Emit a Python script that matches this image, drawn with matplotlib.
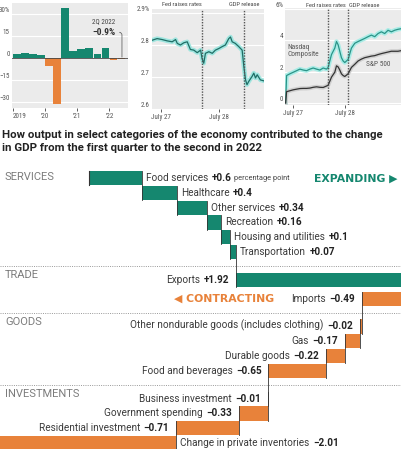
import numpy as np
import matplotlib
matplotlib.use('Agg')
import matplotlib.pyplot as plt

plt.rcParams['font.family'] = ['Roboto Condensed', 'DejaVu Sans']

# --- 1. Data ---
# Top left: quarterly change in GDP, annualized %
gdp_quarters = ['2019Q1', '2019Q2', '2019Q3', '2019Q4', '2020Q1', '2020Q2', '2020Q3',
                '2020Q4', '2021Q1', '2021Q2', '2021Q3', '2021Q4', '2022Q1', '2022Q2']
gdp_change = [2.4, 3.2, 2.8, 1.9, -5.1, -31.2, 33.8, 4.5, 6.3, 7.0, 2.7, 7.0, -1.6, -0.9]
gdp_year_ticks = [-0.5, 3.5, 7.5, 11.5]
gdp_year_labels = ['2019', '\u201920', '\u201921', '\u201922']

# Top middle: 10-year Treasury yield, hours from July 27 00:00
yield_hours = [-3.4, -1.4, 0.7, 2.7, 4.8, 6.2, 6.9, 8.2, 9.6, 11.0, 12.3, 13.7, 15.1,
               16.5, 17.1, 17.8, 18.5, 19.9, 21.3, 22.6, 24.0, 25.4, 26.7, 28.1, 28.8,
               29.5, 30.8, 32.2, 33.6, 34.3, 35.0, 35.6, 36.3, 37.7, 38.4, 39.1, 39.8,
               41.1, 42.5]
yield_pct = [2.815, 2.820, 2.817, 2.813, 2.810, 2.817, 2.805, 2.800, 2.807, 2.810, 2.786,
             2.784, 2.776, 2.784, 2.758, 2.743, 2.774, 2.779, 2.774, 2.784, 2.789, 2.795,
             2.800, 2.820, 2.825, 2.810, 2.805, 2.795, 2.784, 2.733, 2.691, 2.676, 2.686,
             2.702, 2.712, 2.697, 2.707, 2.691, 2.688]
yield_events = [17.1, 34.3]

# Top right: index change, %, days from July 27
stock_days = [-0.148, -0.129, -0.065, 0, 0.065, 0.129, 0.194, 0.258, 0.323, 0.387,
              0.452, 0.516, 0.581, 0.645, 0.677, 0.742, 0.806, 0.839, 0.871, 0.903,
              0.935, 0.968, 1.0, 1.065, 1.129, 1.194, 1.258, 1.323, 1.387, 1.452,
              1.516, 1.581, 1.645, 1.71, 1.774, 1.839, 1.903, 1.968, 2.032, 2.097]
nasdaq_pct = [0, 1.75, 1.86, 1.96, 2.06, 2.16, 2.1, 2.06, 2.16, 2.23, 2.16, 2.1, 2.23,
              2.16, 2.27, 3.09, 3.5, 3.92, 3.71, 3.3, 2.89, 2.68, 2.58, 2.78, 3.5, 3.81,
              3.92, 4.02, 4.12, 4.23, 4.33, 4.23, 4.43, 4.54, 4.43, 4.64, 4.54, 4.64,
              4.7, 4.74]
sp500_pct = [0, 0.72, 0.78, 0.84, 0.88, 0.92, 0.93, 0.93, 0.95, 1.0, 1.03, 1.0, 0.99,
             1.08, 1.13, 1.65, 1.96, 2.37, 2.3, 2.1, 1.86, 1.75, 1.69, 1.86, 2.27, 2.47,
             2.68, 2.8, 2.89, 2.94, 2.99, 3.02, 3.09, 3.15, 3.2, 3.25, 3.3, 3.3, 3.3, 3.34]
stock_events = [0.68, 1.06]

# Bottom: contributions to GDP change, percentage points
sections = ['SERVICES', 'TRADE', 'GOODS', 'INVESTMENTS']
categories = ['Food services', 'Healthcare', 'Other services', 'Recreation',
              'Housing and utilities', 'Transportation',
              'Exports', 'Imports',
              'Other nondurable goods (includes clothing)', 'Gas', 'Durable goods',
              'Food and beverages',
              'Business investment', 'Government spending', 'Residential investment',
              'Change in private inventories']
category_section = [0, 0, 0, 0, 0, 0, 1, 1, 2, 2, 2, 2, 3, 3, 3, 3]
contributions = [0.6, 0.4, 0.34, 0.16, 0.1, 0.07, 1.92, -0.49, -0.02, -0.17, -0.22,
                 -0.65, -0.01, -0.33, -0.71, -2.01]

# --- 2. Styling ---
W, H = 402, 449
TEAL = '#15876f'
ORANGE = '#e8823a'
PANEL_BG = '#ebebeb'
TICK_TXT = '#555555'
DARK = '#222222'
LABEL_FONT = ['Roboto', 'DejaVu Sans']

fig = plt.figure(figsize=(W / 100, H / 100), dpi=100)


def px_axes(x0, y0, x1, y1):
    # axes box given in picture pixels from the top-left corner
    return fig.add_axes([x0 / W, 1 - y1 / H, (x1 - x0) / W, (y1 - y0) / H])


def panel_style(ax, yticks, ylabels):
    ax.set_facecolor(PANEL_BG)
    for s in ax.spines.values():
        s.set_visible(False)
    ax.set_yticks(yticks, ylabels)
    for yv in yticks:
        ax.axhline(yv, color='white', lw=0.8, zorder=0.5)
    ax.tick_params(axis='y', length=0, labelsize=5, colors=TICK_TXT, pad=1.5)
    ax.tick_params(axis='x', length=2, width=0.6, color='#444', labelsize=5,
                   labelcolor=TICK_TXT, pad=1.5)
    for lab in ax.get_yticklabels():
        lab.set_va('bottom')


# --- 3. Top left: GDP bars ---
ax1 = px_axes(12, 3, 128, 108)
xq = np.arange(len(gdp_quarters))
ax1.bar(xq, gdp_change, width=0.96,
        color=[TEAL if v > 0 else ORANGE for v in gdp_change], zorder=2)
ax1.set_xlim(-0.6, 13.8)
ax1.set_ylim(-34, 37.4)
panel_style(ax1, [-30, -15, 0, 15, 30], ['\u221230', '\u221215', '0', '15', '30%'])
ax1.axhline(0, color='#444', lw=0.6, zorder=3)
ax1.set_xticks(gdp_year_ticks, gdp_year_labels)
ax1.get_xticklabels()[0].set_ha('left')
ax1.text(10.8, 24.5, '2Q 2022', ha='center', va='center', fontsize=5, color='#444')
ax1.annotate('\u22120.9%', xy=(13.05, 0.6), xytext=(10.8, 17.5), ha='center', va='center',
             fontsize=6.8, fontweight='bold', color='#333',
             arrowprops=dict(arrowstyle='-', lw=0.6, color='#666', relpos=(1, 0.5),
                             connectionstyle='angle,angleA=0,angleB=90,rad=3',
                             shrinkA=1, shrinkB=0))

# --- 4. Top middle: Treasury yield ---
ax2 = px_axes(152, 9, 264, 109)
ax2.plot(yield_hours, yield_pct, color='#9fe5df', lw=3.2, solid_capstyle='round', zorder=2)
ax2.plot(yield_hours, yield_pct, color='#1f6e66', lw=0.9, zorder=3)
ax2.set_xlim(-3.5, 42.6)
ax2.set_ylim(2.6, 2.9125)
panel_style(ax2, [2.6, 2.7, 2.8, 2.9], ['2.6', '2.7', '2.8', '2.9%'])
ax2.set_xticks([0, 24], ['July 27', 'July 28'])
for xv in yield_events:
    ax2.axvline(xv, color='#555', lw=1.0, ls=(0, (1, 1)), zorder=4)
ax2.text(yield_events[0], 1.05, 'Fed raises rates', transform=ax2.get_xaxis_transform(),
         ha='right', va='center', fontsize=4.6, color='#444')
ax2.text(yield_events[1], 1.05, 'GDP release', transform=ax2.get_xaxis_transform(),
         ha='center', va='center', fontsize=4.6, color='#444')

# --- 5. Top right: stock indexes ---
ax3 = px_axes(285, 8, 402, 105)
ax3.plot(stock_days, nasdaq_pct, color='#a9ece6', lw=3.2, zorder=2)
ax3.plot(stock_days, nasdaq_pct, color='#2a9488', lw=0.9, zorder=3)
ax3.plot(stock_days, sp500_pct, color='#cfcfcf', lw=3.0, zorder=2)
ax3.plot(stock_days, sp500_pct, color='#333333', lw=0.9, zorder=3)
ax3.set_xlim(-0.16, 2.11)
ax3.set_ylim(-0.13, 6.06)
panel_style(ax3, [0, 2, 4, 6], ['0', '2', '4', '6%'])
ax3.set_xticks([0, 1], ['July 27', 'July 28'])
for xv in stock_events:
    ax3.axvline(xv, color='#555', lw=1.0, ls=(0, (1, 1)), zorder=4)
ax3.text(stock_events[1] - 0.05, 1.03, 'Fed raises rates', transform=ax3.get_xaxis_transform(),
         ha='right', va='center', fontsize=4.6, color='#444')
ax3.text(stock_events[1] + 0.03, 1.03, 'GDP release', transform=ax3.get_xaxis_transform(),
         ha='left', va='center', fontsize=4.6, color='#444')
ax3.text(-0.12, 3.3, 'Nasdaq\nComposite', ha='left', va='center', fontsize=5.3,
         color='#555', linespacing=1.0)
ax3.text(1.41, 2.47, 'S&P 500', ha='left', va='center', fontsize=5.3, color='#555')

# --- 6. Title of the bottom chart ---
title_kw = dict(fontsize=8.2, fontweight='bold', color='#222', va='center', ha='left',
                family=LABEL_FONT)
fig.text(2 / W, 1 - 135 / H,
         'How output in select categories of the economy contributed to the change',
         **title_kw)
fig.text(2 / W, 1 - 148 / H,
         'in GDP from the first quarter to the second in 2022', **title_kw)

# --- 7. Bottom waterfall ---
ax4 = px_axes(0, 160, W, H)
ax4.set_xlim(-1.011, 3.557)
ax4.set_ylim(H, 160)   # y in picture pixels
ax4.axis('off')

PITCH, SECTION_GAP, BAR_H = 14.8, 13, 14.2
row_y = []
y = 178
for i, s in enumerate(category_section):
    if i > 0:
        y += PITCH
        if s != category_section[i - 1]:
            y += SECTION_GAP
        if categories[i] == 'Imports':
            y += 4  # room for the CONTRACTING tag
    row_y.append(y)

vals = np.array(contributions)
ends = np.cumsum(vals)
starts = ends - vals
colors = [TEAL if v > 0 else ORANGE for v in vals]
ax4.barh(row_y, vals, left=starts, height=BAR_H, color=colors, zorder=2)

# thin connectors at each step
ax4.plot([0, 0], [row_y[0] - BAR_H / 2, row_y[0] + BAR_H / 2], color='#333', lw=0.8, zorder=3)
for i in range(len(vals) - 1):
    ax4.plot([ends[i], ends[i]], [row_y[i] - BAR_H / 2, row_y[i + 1] + BAR_H / 2],
             color='#333', lw=0.6, zorder=3)

# section separators and names
xmin, xmax = ax4.get_xlim()
sec_top = [168]
for i in range(1, len(vals)):
    if category_section[i] != category_section[i - 1]:
        ysep = (row_y[i - 1] + row_y[i]) / 2
        ax4.axhline(ysep, color='#999999', lw=0.7, ls=(0, (1, 1.3)), zorder=1)
        sec_top.append(ysep)
for name, yt in zip(sections, sec_top):
    ax4.text(5 / W, yt + 9, name, transform=ax4.get_yaxis_transform(), ha='left',
             va='center', fontsize=8.0, color='#7c7c7c', family=LABEL_FONT)

# category labels: name + bold value next to the bar
LABEL_FS = 7.2
name_kw = dict(fontsize=LABEL_FS, color='#3a3a3a', family=LABEL_FONT)
val_kw = dict(fontsize=LABEL_FS, color=DARK, fontweight='bold', family=LABEL_FONT)
name_artists = []
for i, (cat, v) in enumerate(zip(categories, vals)):
    lo, hi = min(starts[i], ends[i]), max(starts[i], ends[i])
    side = 'right' if v > 0 else 'left'
    if side == 'right' and hi > xmax:
        side = 'left'
    if side == 'left' and lo < xmin:
        side = 'right'
    vtxt = f'{v:+g}'.replace('-', '\u2212')
    if side == 'right':
        t_name = ax4.annotate(cat, xy=(hi, row_y[i]), xytext=(3, 0), textcoords='offset points',
                              ha='left', va='center', **name_kw)
        t_val = ax4.annotate(vtxt, xy=(1, 0), xycoords=t_name, xytext=(2.5, 0),
                             textcoords='offset points', ha='left', va='bottom', **val_kw)
        if i == 0:
            ax4.annotate('percentage point', xy=(1, 0), xycoords=t_val, xytext=(2, 0.6),
                         textcoords='offset points', ha='left', va='bottom',
                         fontsize=5.3, color='#444', family=LABEL_FONT)
    else:
        t_val = ax4.annotate(vtxt, xy=(lo, row_y[i]), xytext=(-5, 0), textcoords='offset points',
                             ha='right', va='center', **val_kw)
        t_name = ax4.annotate(cat, xy=(0, 0), xycoords=t_val, xytext=(-2.5, 0),
                              textcoords='offset points', ha='right', va='bottom', **name_kw)
    name_artists.append(t_name)

tag_kw = dict(fontsize=7.8, fontweight='bold', family=['DejaVu Sans'])
ax4.text(398 / W, row_y[0] + 1, 'EXPANDING \u25B6', transform=ax4.get_yaxis_transform(),
         ha='right', va='center', color=TEAL, **tag_kw)
ax4.annotate('\u25C0 CONTRACTING', xy=(0, 0.5), xycoords=name_artists[categories.index('Imports')],
             xytext=(-12, 0), textcoords='offset points', ha='right', va='center',
             color=ORANGE, **tag_kw)

fig.savefig('out.png', dpi=100)
